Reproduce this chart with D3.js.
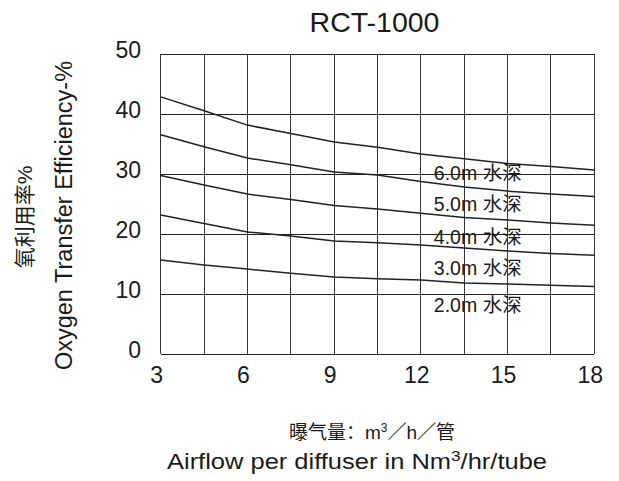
<!DOCTYPE html>
<html>
  <head>
    <meta charset="UTF-8" />
    <style>
      body {
        margin: 0;
        background: #fff;
      }
      svg text {
        font-family: "Liberation Sans", Arial, "Noto Sans CJK SC", sans-serif;
        fill: #1a1a1a;
      }
    </style>
  </head>
  <body>
    <svg></svg>
    <script src="https://d3js.org/d3.v7.min.js"></script>
    <script>
      // airflow (m3/h per tube)
      var airflow = [3, 4.5, 6, 7.5, 9, 10.5, 12, 13.5, 15, 16.5, 18];

      // oxygen transfer efficiency (%) per water depth
      var depth6 = [42.9, 40.6, 38.2, 36.8, 35.4, 34.5, 33.4, 32.6, 31.8, 31.3, 30.7];
      var depth5 = [36.6, 34.6, 32.7, 31.6, 30.4, 29.9, 28.8, 27.9, 27.2, 26.7, 26.3];
      var depth4 = [29.8, 28.2, 26.7, 25.8, 24.8, 24.2, 23.5, 22.8, 22.4, 21.9, 21.5];
      var depth3 = [23.2, 21.8, 20.4, 19.7, 18.9, 18.6, 18.2, 17.7, 17.2, 16.8, 16.5];
      var depth2 = [15.7, 14.9, 14.2, 13.5, 12.9, 12.6, 12.4, 11.9, 11.7, 11.5, 11.3];

      var seriesNames = ["6.0m 水深", "5.0m 水深", "4.0m 水深", "3.0m 水深", "2.0m 水深"];
      var seriesValues = [depth6, depth5, depth4, depth3, depth2];
      // where each depth label sits (x, y in data units)
      var labelX = 12.45;
      var labelY = [30.2, 24.9, 19.5, 14.3, 8.2];

      var xTicks = [3, 6, 9, 12, 15, 18];
      var xGrid = [3, 4.5, 6, 7.5, 9, 10.5, 12, 13.5, 15, 16.5, 18];
      var yTicks = [0, 10, 20, 30, 40, 50];

      let width = 619,
        height = 481;

      let svg = d3
        .select("svg")
        .attr("width", width)
        .attr("height", height);

      var plotLeft = 160.7,
        plotRight = 594.3,
        plotTop = 54.3,
        plotBottom = 354.3;

      var x = d3.scaleLinear().domain([3, 18]).range([plotLeft, plotRight]);
      var y = d3.scaleLinear().domain([0, 50]).range([plotBottom, plotTop]);

      // grid
      var grid = svg.append("g").attr("shape-rendering", "crispEdges");
      grid
        .selectAll(".vgrid")
        .data(xGrid)
        .enter()
        .append("line")
        .attr("x1", (d) => x(d))
        .attr("x2", (d) => x(d))
        .attr("y1", plotTop)
        .attr("y2", plotBottom)
        .attr("stroke", "#333")
        .attr("stroke-width", 1);

      grid
        .selectAll(".hgrid")
        .data(yTicks)
        .enter()
        .append("line")
        .attr("x1", plotLeft)
        .attr("x2", plotRight)
        .attr("y1", (d) => y(d))
        .attr("y2", (d) => y(d))
        .attr("stroke", "#222")
        .attr("stroke-width", 1.4);

      // tick labels
      svg
        .selectAll(".xlab")
        .data(xTicks)
        .enter()
        .append("text")
        .attr("x", (d) => x(d) - 4)
        .attr("y", 383)
        .attr("text-anchor", "middle")
        .style("font-size", "23px")
        .text((d) => d);

      svg
        .selectAll(".ylab")
        .data(yTicks)
        .enter()
        .append("text")
        .attr("x", 141)
        .attr("y", (d) => y(d) + 4)
        .attr("text-anchor", "end")
        .style("font-size", "23px")
        .text((d) => d);

      // curves
      var line = d3
        .line()
        .x((d, i) => x(airflow[i]))
        .y((d) => y(d));

      svg
        .selectAll(".curve")
        .data(seriesValues)
        .enter()
        .append("path")
        .attr("d", line)
        .attr("fill", "none")
        .attr("stroke", "#222")
        .attr("stroke-width", 1.5);

      svg
        .selectAll(".depth")
        .data(seriesNames)
        .enter()
        .append("text")
        .attr("x", x(labelX))
        .attr("y", (d, i) => y(labelY[i]) + 6.5)
        .style("font-size", "19.5px")
        .text((d) => d);

      // titles
      svg
        .append("text")
        .attr("x", 374.5)
        .attr("y", 32.3)
        .attr("text-anchor", "middle")
        .style("font-size", "28.5px")
        .text("RCT-1000");

      svg
        .append("text")
        .attr("transform", "translate(71.5,215.5) rotate(-90)")
        .attr("text-anchor", "middle")
        .style("font-size", "23.5px")
        .text("Oxygen Transfer Efficiency-%");

      svg
        .append("text")
        .attr("transform", "translate(32,217) rotate(-90)")
        .attr("text-anchor", "middle")
        .style("font-size", "21px")
        .text("氧利用率%");

      var cn = svg
        .append("text")
        .attr("x", 372)
        .attr("y", 439)
        .attr("text-anchor", "middle")
        .style("font-size", "19px");
      cn.append("tspan").text("曝气量：m");
      cn.append("tspan")
        .attr("baseline-shift", "super")
        .style("font-size", "12px")
        .text("3");
      cn.append("tspan").text("／h／管");

      var en = svg
        .append("text")
        .attr("x", 357)
        .attr("y", 469)
        .attr("text-anchor", "middle")
        .attr("textLength", 380)
        .attr("lengthAdjust", "spacingAndGlyphs")
        .style("font-size", "22px");
      en.append("tspan").text("Airflow per diffuser in Nm");
      en.append("tspan")
        .attr("baseline-shift", "super")
        .style("font-size", "15px")
        .text("3");
      en.append("tspan").text("/hr/tube");
    </script>
  </body>
</html>
